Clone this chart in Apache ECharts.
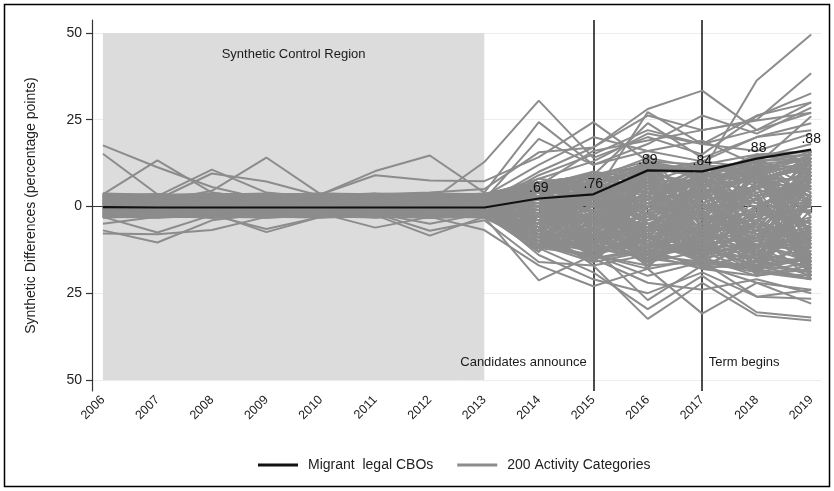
<!DOCTYPE html>
<html><head><meta charset="utf-8">
<script src="https://cdn.jsdelivr.net/npm/echarts@6/dist/echarts.min.js"></script>
<style>html,body{margin:0;padding:0;background:#fff}#c{width:834px;height:491px}</style>
</head><body><div id="c"></div>
<script>
const years = [2006,2007,2008,2009,2010,2011,2012,2013,2014,2015,2016,2017,2018,2019];
const yTicks = [-50,-25,0,25,50];
const eventYears = [2015,2017];
const eventLabels = ['Candidates announce','Term begins'];
const migrantCBOs = [-0.2,-0.3,-0.3,-0.3,-0.3,-0.3,-0.3,-0.3,2.3,3.5,10.4,10.1,13.8,16.4];
const pValueLabels = ['','','','','','','','','.69','.76','.89','.84','.88','.88'];
const activityCategories = [
[17.6,11.3,5.6,2.0,1.5,1.0,2.0,3.0,6,9,12,8,14,18],
[15.2,3.5,2.5,1.0,0.5,2.0,1.0,0.5,9,15,22,18,22,27],
[3.5,13.3,4.0,2.0,1.0,0.5,1.5,2.0,19.5,12,16,13,20,24],
[2.0,3.0,10.6,4.0,2.5,3.0,2.0,1.5,5,3,27.2,18,16,21],
[1.0,2.0,9.5,7.2,3.0,3.5,4.0,5.0,15.6,17,28.1,33.4,22,30],
[0.5,1.5,4.5,14.1,3.5,2.0,1.5,12.8,30.5,14,20,15,26,32.6],
[2.5,1.0,2.0,3.0,3.5,10.2,14.7,4.0,24.3,12,18,26.2,21,28.5],
[1.5,3.0,1.0,2.5,3.5,9.0,7.5,7.3,14.2,24.3,13,10,36.3,49.6],
[-6.9,-10.4,-4.0,-2.0,-1.5,-2.5,-8.4,-3.0,-21.3,-14,-20,-16,-26,-24],
[-7.8,-8.0,-6.8,-3.0,-2.0,-6.1,-3.0,-6.8,-17,-23,-18,-30.9,-22,-28],
[-5.0,-3.0,-2.0,-7.4,-3.0,-2.0,-7.0,-4.0,-16,-17,-32.4,-22,-31.4,-32.9],
[-3.0,-7.5,-2.5,-6.5,-3.0,-2.0,-5.0,-2.0,-12,-19,-29.6,-20,-30.5,-32],
[2,1,0,1,2,1,0,1,10,17,26.2,22,25,38.4],
[-1,0,1,0,-1,0,1,0,8,13,21,18,26.2,30],
[0,-1,0,1,0,-1,0,2,6,16,19,22,24.8,27],
[-2,-1,-2,-1,0,-1,-2,-1,-14,-21,-25,-19,-26,-26.6],
[-1,-2,-1,-2,-1,-2,-1,-3,-10,-15,-22,-24,-21,-25],
[1,0,-1,0,1,0,-1,-2,-8,-12,-27,-17,-22,-24],
[0,1,2,1,0,1,2,1,4,9,24,14,20,22],
[3,2,1,2,3,2,1,3,12,20,16,19,12,26],
[3.5,3.2,3.6,3.4,3.7,3.5,3.6,3.3,6,8,12,10,14,15],
[-3,-2.8,-3.2,-3,-3.1,-3,-2.9,-3.2,-11,-14,-17,-16,-19,-20],
[2,1.5,2.5,3,1,2,3,2.5,4,7,11,9,13,14],
[-2,-2.5,-1.5,-2,-3,-2.5,-2,-1,-9,-12,-15,-17,-18,-21],
[1,0.5,1.5,0,1,0.5,1,0,2,5,9,12,10,16],
[-1,-0.5,-1.5,-1,0,-1,-1.5,-0.5,-6,-8,-10,-13,-15,-17],
[0.5,1,0,0.5,1.5,0,0.5,1,3,-2,6,4,8,11],
[-0.5,0,-1,0.5,-0.5,1,0,-1,-4,-6,-3,-8,-11,-9],
[3,2,3.5,2,3,3.5,2.5,3,5,2,8,6,12,9],
[-2.5,-3,-2,-2.5,-2,-3,-2.5,-2,-7,-10,-13,-9,-14,-16],
[1.5,2.5,1,2,2.5,1.5,2,1.5,0,4,2,7,5,10],
[-1.5,-2,-1,-1.5,-2.5,-1.5,-1,-2,-3,-1,-7,-5,-9,-6],
[2.5,3,2,3.5,2,3,3.5,2,7,9,5,11,9,13],
[-3,-2,-2.5,-3,-2,-2,-3,-2.5,-12,-9,-14,-12,-17,-15],
[0,0.5,-0.5,0,0.5,-0.5,0,0.5,-1,1,-2,0,-3,2],
[1,2,3,1,2,3,1,2,4,6,3,9,7,5],
[-1,-2,-3,-1,-2,-3,-1,-2,-5,-3,-8,-6,-4,-10],
[3.7,2.8,3,3.6,2.9,3.4,3.7,3.5,7,3,10,13,11,12],
[-2.8,-3.1,-2.6,-3.2,-2.7,-3,-3.1,-2.8,-10,-13,-9,-15,-12,-18],
[0.8,-0.3,1.2,-0.8,0.4,1.6,-0.6,0.9,1,-4,4,-2,6,3],
[-0.8,0.3,-1.2,0.8,-0.4,-1.6,0.6,-0.9,-2,3,-5,1,-7,-4],
[2.2,1.8,2.6,1.4,2.9,1.2,2.4,2.8,5,8,6,3,9,7],
[-2.2,-1.8,-2.6,-1.4,-2.9,-1.2,-2.4,-2.8,-8,-5,-11,-14,-10,-13],
[1.7,0.9,2.1,3.3,1.1,2.7,0.7,1.9,3,0,7,5,3,8],
[-1.7,-0.9,-2.1,-3.1,-1.1,-2.7,-0.7,-1.9,-5,-9,-6,-3,-8,-12],
[3.3,2.4,1.6,2.5,3.4,2.2,3,3.6,4,6,13,8,15,12],
[-2.4,-3.2,-1.6,-2.5,-3,-2.2,-2.7,-3,-9,-15,-12,-18,-16,-19],
[0.3,1.3,0.7,2.3,0.2,1.8,1.4,0.6,-3,2,-1,3,1,-2],
[-0.3,-1.3,-0.7,-2.3,-0.2,-1.8,-1.4,-0.6,-6,-4,-9,-7,-12,-8],
[2.8,3.5,2.3,2.7,3.6,3.1,2.6,3.4,6,9,7,12,10,14],
[-1.2,-2.7,-1.9,-0.6,-2.2,-1.3,-2.8,-1.5,-7,-11,-14,-10,-18,-14],
[1.3,0.2,1.9,1.1,0.6,2.1,1.6,0.4,2,-1,5,8,4,6],
[-0.6,1.1,-1.8,0.2,-1.2,0.9,-0.4,-1.4,-3,-7,-2,-9,-6,-11],
[3.1,1.4,2.7,3.5,2.4,1.9,3.3,2.9,5,3,9,7,13,10],
[-2.9,-1.5,-2.3,-3.2,-1.8,-2.6,-3,-2.4,-11,-8,-16,-13,-15,-20],
[0.2,-0.7,0.9,-0.2,1.3,-0.9,0.4,-0.3,0,2,-4,-1,2,-5],
[1.9,3.4,1.1,2.2,1.7,3.3,2.1,1.2,3,7,10,6,8,11],
[-1.9,-3,-1.1,-2.2,-1.7,-3.1,-2.1,-1.2,-4,-2,-6,-11,-9,-7],
[2.6,2,3.2,2.9,2.1,2.5,3.5,2.6,1,5,4,10,6,9],
[-2.6,-2,-3.2,-2.9,-2.1,-2.5,-3.1,-2.6,-12,-14,-18,-15,-20,-17],
[0.6,1.7,0.1,1.5,2.3,0.3,1.2,0.8,4,1,3,-3,5,1],
[-0.2,-1.6,0.4,-1.1,-2.4,0.1,-1.7,-0.4,-2,-5,1,-4,-2,-6],
[3.6,3.1,3.4,2.4,3.3,3.6,2.9,3.7,7,5,11,9,14,16],
[-3.1,-2.4,-2.9,-3.2,-2.6,-2.8,-3.2,-3,-10,-12,-10,-16,-18,-15],
[1.1,2.3,0.4,1.8,0.9,2.6,0.2,1.4,0,3,8,2,10,4],
[-1.4,-0.2,-2,-0.9,-1.5,-0.3,-2.2,-1.1,-8,-3,-5,-10,-7,-14],
[2.4,1.2,3.1,1.6,2.8,1,2.7,2.2,6,4,1,5,2,7],
[-2,-1.2,-2.8,-1.6,-2.6,-1,-2.5,-2.2,-7,-10,-12,-8,-13,-18],
[0,0.9,-0.9,1.3,-0.6,0.7,-1.1,0.2,-1,-3,0,-6,-4,0],
[3.2,2.2,1.8,3.1,2.5,3.7,1.8,3.1,8,6,12,10,7,13],
[-2.3,-3.2,-2.7,-1.8,-3,-2.3,-2.6,-3.1,-6,-13,-8,-12,-17,-21],
[1.6,0.3,2.2,0.9,1.8,1.1,2.9,1.7,2,4,0,6,3,8],
[-1.1,-0.4,-1.7,-0.8,-1.3,-0.5,-1.9,-1,-4,-8,-11,-7,-5,-9],
[2.9,3.6,2.5,3.2,2.7,2.8,3.2,2.7,5,8,14,11,9,15],
[-1.6,-2.9,-0.8,-2.4,-1.6,-2.9,-0.9,-2.5,-9,-6,-14,-11,-16,-12],
[0.9,1.6,0.5,2.7,1.4,0.6,1.9,1.1,1,5,2,4,9,3],
[-0.9,-1.1,-0.3,-1.9,-0.8,-1.4,-0.2,-1.6,-3,0,-3,-7,-1,-5],
[1.4,2.9,1.7,0.7,3,2.4,1.3,2.6,5,2,9,12,8,12],
[-2.7,-2.2,-3,-2.7,-2.3,-3.2,-2.2,-2.7,-11,-16,-13,-17,-14,-18],
[0.4,-0.1,0.8,0.3,-0.3,0.5,0.2,-0.2,-2,1,-6,-3,-8,-3],
[2,2.7,1.4,2.6,1.6,2.3,1.1,1.8,3,6,4,1,6,2],
[-1.3,-2.5,-0.6,-1.7,-2.8,-0.8,-1.6,-2.3,-5,-7,-9,-14,-11,-16],
[3.4,2.6,3.7,2.8,3.5,2.6,3.4,3.2,4,10,8,6,11,14],
[-3.2,-2.6,-2.2,-3,-3.2,-2.7,-2.3,-3.2,-10,-7,-15,-11,-19,-16],
[0.7,1.4,1.6,0.4,0.8,1.2,0.9,0.3,-1,3,6,3,0,5],
[-0.7,-1.4,-1.3,-0.4,-0.9,-1.2,-0.8,-0.7,-2,-4,-7,-2,-10,-7],
[2.1,1.4,2.8,1.9,2.5,1.7,2.2,1.6,-8,4,-12,9,-15,12],
[-1.8,-2.4,-1.2,-2.0,-1.5,-2.7,-1.9,-2.3,5,-12,10,-14,13,-18],
[0.7,1.2,0.3,0.9,1.5,0.5,1.1,0.8,-11,-3,7,-9,-2,14],
[-0.4,0.2,-0.9,-0.3,0.6,-0.7,-0.1,-0.5,6,-9,-16,4,-19,9],
[3.0,2.6,3.3,2.7,3.1,2.9,3.4,2.8,-5,8,-9,11,-6,-13],
[-2.9,-2.5,-3.1,-2.6,-2.9,-2.4,-3.0,-2.7,3,-15,12,-4,15,-20],
[1.8,2.5,1.3,2.0,1.6,2.4,1.5,2.1,-13,6,-2,-17,8,-7],
[-1.2,-0.6,-1.7,-1.0,-1.4,-0.8,-1.6,-1.1,7,-7,3,12,-14,1],
[2.7,3.2,2.3,3.5,2.6,3.0,2.4,3.3,-2,-13,14,-8,4,-19],
[-2.2,-1.7,-2.6,-2.0,-2.4,-1.9,-2.7,-2.1,-9,9,-13,7,-18,16],
[0.1,-0.4,0.5,-0.2,0.3,-0.6,0.4,0.0,4,-5,-11,-15,11,-3],
[1.4,0.8,1.9,1.2,0.9,1.6,1.3,1.0,-7,2,9,-11,-9,6],
[-0.9,-1.5,-0.4,-1.2,-0.7,-1.3,-0.5,-1.0,1,-14,-7,10,3,-16],
[3.5,3.0,3.6,3.2,3.7,3.3,3.5,3.1,-12,-8,5,-3,14,-11],
[-3.2,-2.9,-3.0,-3.1,-2.8,-3.2,-2.9,-3.0,5,7,-18,1,-12,10],
[2.3,1.6,2.9,2.1,1.8,2.6,2.0,2.4,-4,-10,-5,-16,6,13],
[-1.5,-2.1,-1.0,-1.8,-1.3,-2.2,-1.1,-1.7,-10,3,11,-6,-17,-1],
[0.5,1.0,0.2,0.7,1.1,0.3,0.8,0.6,3,-16,0,8,-8,-21],
[-0.1,-0.7,0.3,-0.4,-0.9,0.2,-0.6,-0.2,-6,8,-14,-12,10,4],
[1.9,1.1,2.4,1.5,2.2,1.3,2.6,1.8,2,-4,13,-1,-20,8],
[-2.5,-1.9,-2.9,-2.2,-2.6,-2.0,-2.8,-2.4,-13,-1,-9,5,2,-14],
[2.9,3.4,2.5,3.0,2.7,3.3,2.6,3.2,6,-11,-3,11,-5,16],
[-0.6,0.1,-1.1,-0.5,-0.2,-0.9,-0.3,-0.8,-3,5,-17,-7,13,-9],
[1.0,1.7,0.6,1.3,0.8,1.5,0.5,1.2,-9,-6,8,-14,-1,11],
[-1.9,-1.3,-2.3,-1.6,-2.1,-1.4,-2.4,-1.8,4,-9,2,9,-16,-6],
[3.3,2.8,3.6,3.0,3.4,2.9,3.7,3.1,-1,3,-12,-5,9,-17],
[-2.7,-3.1,-2.3,-2.8,-3.0,-2.5,-2.9,-2.6,-11,-15,6,-9,-3,15],
[0.3,0.9,-0.2,0.6,0.1,0.8,-0.1,0.4,5,1,-8,12,-10,-4],
[1.6,2.2,1.1,1.8,2.4,1.3,1.9,1.5,-12,9,-1,-13,12,-19],
[-1.0,-0.4,-1.5,-0.8,-1.2,-0.5,-1.4,-0.9,2,-13,15,-2,-7,7],
[2.5,2.0,2.9,2.3,2.7,2.1,3.0,2.4,-8,-2,-15,3,15,-8],
[-2.1,-2.6,-1.6,-2.3,-1.9,-2.8,-1.7,-2.2,6,10,4,-17,-14,3],
[0.9,0.4,1.3,0.6,1.0,0.3,1.4,0.7,-5,-12,11,-8,0,-12],
[-0.3,0.3,-0.8,-0.1,-0.5,0.4,-0.7,-0.2,0,6,-4,6,-19,12],
[3.6,3.2,3.4,3.7,3.1,3.5,3.3,3.6,-10,-7,-13,-6,7,-2],
[-3.0,-3.2,-2.7,-3.1,-2.9,-3.0,-3.2,-2.8,-2,4,9,-12,-5,-18],
[1.3,1.9,0.9,1.6,1.2,2.0,1.0,1.4,7,-14,-10,2,10,-15],
[-1.6,-1.0,-2.0,-1.4,-1.8,-1.1,-2.1,-1.5,-7,0,13,-16,3,5],
[2.0,2.6,1.6,2.3,1.9,2.7,1.7,2.2,1,-8,-6,8,-12,14],
[-2.4,-1.8,-2.8,-2.1,-2.5,-1.9,-2.6,-2.3,-12,5,-16,-1,8,-10],
[0.6,0.0,1.0,0.4,0.7,0.1,0.9,0.5,4,-10,1,-10,-15,2],
[-0.7,-1.2,-0.3,-0.9,-0.5,-1.3,-0.4,-0.8,-4,2,-12,4,11,-20],
[3.2,2.7,3.5,2.9,3.3,2.8,3.6,3.0,5,-4,7,-15,-4,9],
[-2.8,-2.3,-3.1,-2.6,-3.0,-2.4,-3.2,-2.7,-8,-16,-2,10,-13,-7],
[1.7,1.2,2.1,1.5,1.9,1.1,2.3,1.6,-13,7,-14,0,5,15],
[-1.3,-1.8,-0.9,-1.5,-1.1,-1.9,-1.0,-1.4,3,-6,10,-11,-18,-3],
[2.6,3.1,2.2,2.8,2.4,3.2,2.3,2.7,-6,-13,-9,7,12,-16],
[-2.0,-1.5,-2.4,-1.8,-2.2,-1.6,-2.5,-1.9,7,9,-5,-14,0,8],
[0.0,0.6,-0.5,0.2,-0.3,0.5,-0.4,0.1,-11,-2,12,-4,-11,-13],
[1.2,0.6,1.6,0.9,1.4,0.7,1.7,1.1,2,-15,-13,9,14,0],
[-0.5,-1.0,-0.1,-0.7,-0.3,-1.1,-0.2,-0.6,-2,10,6,-18,-9,11],
[3.4,2.9,3.7,3.1,3.5,3.0,3.3,3.2,-9,1,-18,3,-16,-5],
[-3.1,-2.7,-3.2,-2.9,-3.0,-2.6,-3.1,-2.8,6,-11,8,-7,9,13],
[2.2,2.8,1.8,2.5,2.0,2.9,1.9,2.3,-6,3,-7,11,-19,-9],
[-1.7,-1.1,-2.1,-1.5,-1.9,-1.2,-2.2,-1.6,1,-8,14,-10,6,-21],
[0.8,1.3,0.4,1.0,0.6,1.4,0.5,0.9,-12,-4,-11,1,-6,10],
[-0.2,-0.8,0.2,-0.5,0.0,-0.9,0.1,-0.3,5,-13,3,-13,12,-11],
[2.8,2.3,3.2,2.6,3.0,2.4,3.3,2.7,-3,7,-16,6,-14,4],
[-2.6,-3.0,-2.2,-2.7,-2.4,-3.1,-2.3,-2.5,-10,-9,7,-5,2,-17],
[1.5,2.0,1.1,1.7,1.3,2.1,1.2,1.6,6,5,-8,-16,-17,14],
[-1.1,-0.5,-1.6,-0.9,-1.3,-0.6,-1.7,-1.0,-7,-14,0,12,8,-2],
[3.0,3.5,2.6,3.2,2.8,3.6,2.7,3.1,0,-1,-14,-9,11,-14],
[-2.3,-2.8,-1.9,-2.5,-2.1,-2.9,-2.0,-2.4,-13,8,5,4,-10,6],
[0.4,-0.2,0.8,0.2,0.5,-0.1,0.7,0.3,3,-7,-17,8,-3,-19],
[1.8,1.3,2.2,1.6,2.0,1.4,2.3,1.7,-9,-16,9,-12,15,1],
[-0.8,-0.2,-1.3,-0.6,-1.0,-0.3,-1.4,-0.7,7,2,-10,-1,-13,16],
[2.4,2.9,2.0,2.6,2.2,3.0,2.1,2.5,-4,-11,4,-18,-8,-8],
[-1.4,-1.9,-1.0,-1.6,-1.2,-2.0,-1.1,-1.5,-1,6,-15,9,13,-12],
[0.2,0.7,-0.2,0.4,0.0,0.8,-0.1,0.3,-8,-5,11,-15,-18,3],
[3.1,2.6,3.4,2.8,3.2,2.7,3.5,2.9,4,-12,-4,5,1,-16],
[-2.9,-2.4,-3.2,-2.7,-3.1,-2.5,-3.0,-2.6,-6,9,-11,-8,7,12],
[1.1,0.5,1.5,0.8,1.3,0.6,1.6,1.0,-11,-3,6,-17,-2,-1],
[-0.1,0.5,-0.6,0.1,-0.3,0.6,-0.4,0.0,2,-9,-13,10,-16,9],
[2.0,1.5,2.4,1.8,2.2,1.6,2.5,1.9,-5,4,13,-6,4,-20],
[-1.8,-2.3,-1.4,-2.0,-1.6,-2.4,-1.5,-1.9,-12,-10,-6,3,14,5],
[0.9,1.5,0.5,1.1,0.7,1.6,0.6,1.0,6,-6,2,-12,-11,-15],
[-2.2,-1.6,-2.6,-1.9,-2.4,-1.7,-2.7,-2.1,-3,-15,10,-3,-7,13],
[2.7,2.2,3.1,2.5,2.9,2.3,3.2,2.6,-9,1,-9,11,-1,-6],
[-0.4,-0.9,0.0,-0.6,-0.2,-1.0,0.1,-0.5,4,-12,-12,-10,10,-18],
[1.4,1.9,1.0,1.6,1.2,2.0,1.1,1.5,-7,8,-3,6,-20,2],
[-3.0,-2.5,-2.9,-2.8,-3.1,-2.6,-3.2,-2.9,-1,-4,-8,-13,-19,-21],
[3.7,3.4,3.5,3.6,3.2,3.7,3.4,3.5,7,9,13,12,15,16],
[0.5,0.0,0.9,0.3,0.6,0.1,1.0,0.4,-6,-17,-14,-18,-20,-18],
[-0.6,0.0,-1.0,-0.4,-0.8,0.1,-0.9,-0.5,6,8,12,11,13,15],
[2.1,2.6,1.7,2.4,1.9,2.7,1.8,2.2,5,-3,-9,-15,-5,-10],
[-1.6,-2.1,-1.2,-1.8,-1.4,-2.2,-1.3,-1.7,-12,-6,4,10,8,11],
[1.0,0.4,1.4,0.7,1.2,0.5,1.5,0.9,0,-9,-16,-7,-14,-9],
[-2.5,-2.0,-2.9,-2.3,-2.7,-2.1,-2.8,-2.4,-10,-12,-14,-16,-17,-19],
[2.9,2.4,3.3,2.7,3.1,2.5,3.4,2.8,6,7,11,9,12,14],
[0.0,-0.5,0.4,-0.2,0.2,-0.6,0.3,-0.1,-4,-8,-11,-13,-15,-17]
];

const FONT = 'Liberation Sans, Arial, Helvetica, sans-serif';
const GRAY = '#8c8c8c';
const pair = arr => arr.map((v, i) => [years[i], v]);

const series = [];
series.push({
  type: 'line', data: [], silent: true, z: 0, symbol: 'none',
  markLine: { silent: true, z: 0, symbol: 'none', label: { show: false },
    lineStyle: { color: '#ececec', width: 1, type: 'solid' },
    data: yTicks.map(v => ({ yAxis: v })) }
});
series.push({
  type: 'line', data: [], silent: true, z: 1, symbol: 'none',
  markArea: { silent: true, z: 1, itemStyle: { color: '#dcdcdc' },
    data: [[{ coord: [years[0], 50] }, { coord: [years[7], -50] }]] },
  markLine: { silent: true, z: 1, symbol: 'none', label: { show: false },
    lineStyle: { color: '#111', width: 1.5, type: 'solid' },
    data: eventYears.map(v => ({ xAxis: v })) },
  markPoint: { silent: true, z: 8, symbol: 'rect', symbolSize: 1, itemStyle: { color: 'rgba(0,0,0,0)' },
    label: { show: true, color: '#1a1a1a', fontFamily: FONT, fontSize: 13 },
    data: [
      { coord: [2009.5, 43.9], label: { formatter: 'Synthetic Control Region', position: 'inside' } },
      { coord: [eventYears[0], -45], label: { formatter: eventLabels[0], position: 'left', distance: 6 } },
      { coord: [eventYears[1], -45], label: { formatter: eventLabels[1], position: 'right', distance: 6 } }
    ] }
});
activityCategories.forEach(arr => {
  series.push({
    name: '200 Activity Categories', type: 'line', data: pair(arr), z: 3,
    symbol: 'none', silent: true, animation: false,
    itemStyle: { color: GRAY }, lineStyle: { color: GRAY, width: 2 }
  });
});
series.push({
  name: 'Migrant  legal CBOs', type: 'line', data: pair(migrantCBOs), z: 6,
  symbol: 'circle', symbolSize: 0.1, showSymbol: true, silent: true,
  itemStyle: { color: '#111' }, lineStyle: { color: '#111', width: 2.2 },
  label: { show: true, position: 'top', distance: 3, color: '#111', fontFamily: FONT, fontSize: 14,
    formatter: p => pValueLabels[p.dataIndex] }
});

const chart = echarts.init(document.getElementById('c'), null, { renderer: 'canvas' });
chart.setOption({
  animation: false,
  backgroundColor: '#fff',
  textStyle: { fontFamily: FONT },
  grid: { left: 92, right: 13, top: 20, bottom: 100, containLabel: false },
  xAxis: {
    type: 'value', min: 2005.8, max: 2019.18,
    axisLine: { show: true, lineStyle: { color: '#333', width: 1.2 } },
    axisTick: { show: true, customValues: years, length: 6, lineStyle: { color: '#333', width: 1.2 } },
    axisLabel: { customValues: years, rotate: 45, margin: 7, color: '#222', fontSize: 12.5, fontFamily: FONT,
      formatter: v => String(v) },
    splitLine: { show: false }
  },
  yAxis: {
    type: 'value', min: -53.2, max: 53.75,
    name: 'Synthetic Differences (percentage points)', nameLocation: 'middle', nameGap: 54,
    nameTextStyle: { color: '#222', fontSize: 14, fontFamily: FONT },
    axisLine: { show: true, lineStyle: { color: '#333', width: 1.2 } },
    axisTick: { show: true, customValues: yTicks, length: 6, lineStyle: { color: '#333', width: 1.2 } },
    axisLabel: { customValues: yTicks, margin: 10, color: '#222', fontSize: 14, fontFamily: FONT,
      formatter: v => String(Math.abs(v)) },
    splitLine: { show: false }
  },
  legend: {
    left: 258, top: 458, padding: 0, itemWidth: 40, itemHeight: 3, itemGap: 24, icon: 'rect',
    textStyle: { color: '#222', fontSize: 14, fontFamily: FONT, padding: [0, 0, 0, 5] },
    data: ['Migrant  legal CBOs', '200 Activity Categories']
  },
  graphic: [{ type: 'rect', silent: true, shape: { x: 4.5, y: 4.5, width: 825, height: 482 },
    style: { fill: 'none', stroke: '#000', lineWidth: 1.5 } }],
  series: series
});
</script>
</body></html>
